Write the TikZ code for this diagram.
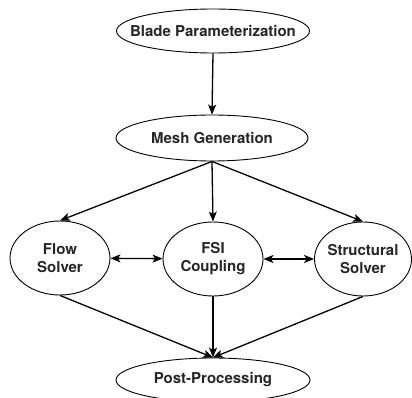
\documentclass[tikz,border=0pt]{standalone}
\usepackage{fontspec}
\setmainfont{TeX Gyre Heros}
\usetikzlibrary{shapes.geometric,arrows.meta}
\begin{document}
\begin{tikzpicture}[x=1pt,y=-1pt,
  ell/.style={draw=black, line width=0.9pt, ellipse, inner sep=0pt},
  lbl/.style={font=\bfseries\fontsize{15}{18}\selectfont, align=center, inner sep=0pt, text=black!85},
  arr/.style={line width=1.3pt, -{Stealth[length=10pt,width=8pt,inset=2.5pt]}},
  darr/.style={line width=1.3pt, {Stealth[length=10pt,width=8pt,inset=2.5pt]}-{Stealth[length=10pt,width=8pt,inset=2.5pt]}}
]
\useasboundingbox (0,0) rectangle (412,398);
\clip (0,0) rectangle (412,398);

\node[ell, minimum width=193pt, minimum height=44pt] (blade) at (213,31) {};
\node[lbl] at (blade) {Blade Parameterization};

\node[ell, minimum width=192pt, minimum height=46pt] (mesh) at (212,138) {};
\node[lbl] at (mesh) {Mesh Generation};

\node[ell, minimum width=100pt, minimum height=74pt] (flow) at (60,258) {};
\node[lbl] at (flow) {Flow\\Solver};

\node[ell, minimum width=100pt, minimum height=74pt] (fsi) at (213,259) {};
\node[lbl] at (fsi) {FSI\\Coupling};

\node[ell, minimum width=97pt, minimum height=74pt] (struct) at (363,259) {};
\node[lbl] at (struct) {Structural\\Solver};

\node[ell, minimum width=194pt, minimum height=44pt] (post) at (213,380) {};
\node[lbl] at (post) {Post-Processing};

\draw[arr] (blade.south) -- (mesh.north);
\draw[arr] (mesh.south) -- (flow.north);
\draw[arr] (mesh.south) -- (fsi.north);
\draw[arr] (mesh.south) -- (struct.north);
\draw[darr] (flow) -- (fsi);
\draw[darr] (fsi) -- (struct);
\draw[arr] (flow.south) -- (post.north);
\draw[arr] (fsi.south) -- (post.north);
\draw[arr] (struct.south) -- (post.north);
\end{tikzpicture}
\end{document}
